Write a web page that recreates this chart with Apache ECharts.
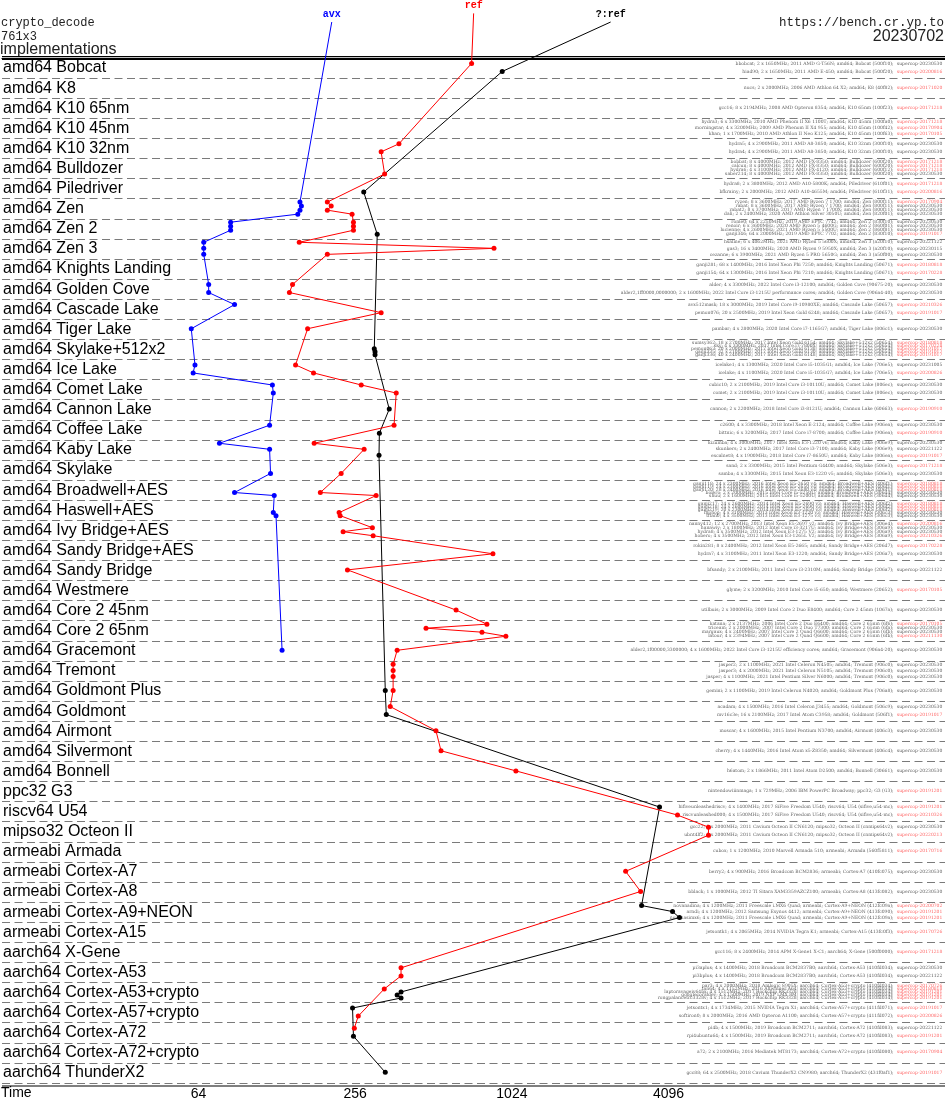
<!DOCTYPE html>
<html><head><meta charset="utf-8">
<script src="https://cdn.jsdelivr.net/npm/echarts@6/dist/echarts.min.js"></script>
<style>html,body{margin:0;padding:0;background:#fff}#c{width:945px;height:1103px}</style>
</head><body><div id="c"></div>
<script>
const N = k => Array(k).fill(null);

const categories = ['amd64 Bobcat','amd64 K8','amd64 K10 65nm','amd64 K10 45nm','amd64 K10 32nm','amd64 Bulldozer','amd64 Piledriver','amd64 Zen','amd64 Zen 2','amd64 Zen 3','amd64 Knights Landing','amd64 Golden Cove','amd64 Cascade Lake','amd64 Tiger Lake','amd64 Skylake+512x2','amd64 Ice Lake','amd64 Comet Lake','amd64 Cannon Lake','amd64 Coffee Lake','amd64 Kaby Lake','amd64 Skylake','amd64 Broadwell+AES','amd64 Haswell+AES','amd64 Ivy Bridge+AES','amd64 Sandy Bridge+AES','amd64 Sandy Bridge','amd64 Westmere','amd64 Core 2 45nm','amd64 Core 2 65nm','amd64 Gracemont','amd64 Tremont','amd64 Goldmont Plus','amd64 Goldmont','amd64 Airmont','amd64 Silvermont','amd64 Bonnell','ppc32 G3','riscv64 U54','mipso32 Octeon II','armeabi Armada','armeabi Cortex-A7','armeabi Cortex-A8','armeabi Cortex-A9+NEON','armeabi Cortex-A15','aarch64 X-Gene','aarch64 Cortex-A53','aarch64 Cortex-A53+crypto','aarch64 Cortex-A57+crypto','aarch64 Cortex-A72','aarch64 Cortex-A72+crypto','aarch64 ThunderX2'];

const machineRow = [0,0, 1, 2, 3,3,3, 4,4, 5,5,5,5, 6,6, 7,7,7,7, 8,8,8,8, 9,9,9, 10,10, 11,11, 12,12, 13, 14,14,14,14,14, 15,15, 16,16, 17, 18,18, 19,19,19, 20,20, 21,21,21,21,21, 22,22,22,22,22, 23,23,23,23, 24,24, 25, 26, 27, 28,28,28,28, 29, 30,30,30, 31, 32,32, 33, 34, 35, 36, 37,37, 38,38, 39, 40, 41, 42,42,42, 43, 44, 45,45, 46,46,46,46,46, 47,47, 48,48, 49, 50];

const machineInfo = [
 'bbobcat; 2 x 1650MHz; 2011 AMD G-T56N; amd64; Bobcat (500f10);','hiad90; 2 x 1650MHz; 2011 AMD E-450; amd64; Bobcat (500f20);',
 'nucs; 2 x 2000MHz; 2006 AMD Athlon 64 X2; amd64; K8 (40f82);',
 'gcc16; 8 x 2194MHz; 2008 AMD Opteron 8354; amd64; K10 65nm (100f23);',
 'hydra3; 6 x 3300MHz; 2010 AMD Phenom II X6 1100T; amd64; K10 45nm (100fa0);','morningstar; 4 x 3200MHz; 2009 AMD Phenom II X4 955; amd64; K10 45nm (100f42);','khan; 1 x 1700MHz; 2010 AMD Athlon II Neo K125; amd64; K10 45nm (100f63);',
 'hydra5; 4 x 2900MHz; 2011 AMD A8-3850; amd64; K10 32nm (300f10);','hydra4; 4 x 2900MHz; 2011 AMD A8-3850; amd64; K10 32nm (300f10);',
 'bobbat; 8 x 4000MHz; 2012 AMD FX-8350; amd64; Bulldozer (600f20);','calcun; 8 x 4000MHz; 2012 AMD FX-8350; amd64; Bulldozer (600f20);','hydra6; 4 x 3100MHz; 2012 AMD FX-4120; amd64; Bulldozer (600f12);','saber214; 8 x 4000MHz; 2012 AMD FX-8350; amd64; Bulldozer (600f20);',
 'hydra8; 2 x 3800MHz; 2012 AMD A10-5800K; amd64; Piledriver (610f01);','bfkrainy; 2 x 2000MHz; 2012 AMD A10-4655M; amd64; Piledriver (610f31);',
 'ryzen; 8 x 3600MHz; 2017 AMD Ryzen 7 1700; amd64; Zen (800f11);','rabat; 8 x 3600MHz; 2017 AMD Ryzen 7 1700; amd64; Zen (800f11);','rabat2; 8 x 3700MHz; 2017 AMD Ryzen 7 1700X; amd64; Zen (800f11);','dali; 2 x 2400MHz; 2020 AMD Athlon Silver 3050U; amd64; Zen (820f01);',
 'rome0; 64 x 2250MHz; 2019 AMD EPYC 7742; amd64; Zen 2 (830f10);','renoir; 6 x 3600MHz; 2020 AMD Ryzen 5 4600G; amd64; Zen 2 (860f01);','lucienne; 4 x 2600MHz; 2021 AMD Ryzen 5 5500U; amd64; Zen 2 (860f81);','ganji346; 64 x 2000MHz; 2019 AMD EPYC 7702; amd64; Zen 2 (830f10);',
 'hsaline; 6 x 4062MHz; 2021 AMD Ryzen 5 5600X; amd64; Zen 3 (a20f10);','gas3; 16 x 3400MHz; 2020 AMD Ryzen 9 5950X; amd64; Zen 3 (a20f10);','cezanne; 6 x 3900MHz; 2021 AMD Ryzen 5 PRO 5650G; amd64; Zen 3 (a50f00);',
 'ganji281; 68 x 1400MHz; 2016 Intel Xeon Phi 7250; amd64; Knights Landing (50671);','ganji154; 64 x 1300MHz; 2016 Intel Xeon Phi 7210; amd64; Knights Landing (50671);',
 'alder; 4 x 3300MHz; 2022 Intel Core i3-12100; amd64; Golden Cove (90675-20);','alder2,1ff0000,0000000; 2 x 1600MHz; 2022 Intel Core i3-1215U performance cores; amd64; Golden Cove (906a4-40);',
 'avx512mask; 18 x 3000MHz; 2019 Intel Core i9-10980XE; amd64; Cascade Lake (50657);','pemon076; 20 x 2500MHz; 2019 Intel Xeon Gold 6248; amd64; Cascade Lake (50657);',
 'pambar; 4 x 2800MHz; 2020 Intel Core i7-1165G7; amd64; Tiger Lake (806c1);',
 'sumsy362; 18 x 2700MHz; 2017 Intel Xeon Gold 6154; amd64; Skylake+512x2 (50654);','sky; 4 x 3300MHz; 2017 Intel Core i7-7800X; amd64; Skylake+512x2 (50654);','pemon063; 20 x 2000MHz; 2017 Intel Xeon Gold 6138; amd64; Skylake+512x2 (50654);','ganji335; 32 x 2100MHz; 2017 Intel Xeon Gold 6130; amd64; Skylake+512x2 (50654);','ganji336; 40 x 2400MHz; 2017 Intel Xeon Gold 6148; amd64; Skylake+512x2 (50654);',
 'icelake1; 4 x 1300MHz; 2020 Intel Core i5-1035G1; amd64; Ice Lake (706e5);','icelake; 4 x 1100MHz; 2020 Intel Core i5-1035G7; amd64; Ice Lake (706e5);',
 'cubic10; 2 x 2100MHz; 2019 Intel Core i3-10110U; amd64; Comet Lake (806ec);','comet; 2 x 2100MHz; 2019 Intel Core i3-10110U; amd64; Comet Lake (806ec);',
 'cannon; 2 x 2200MHz; 2018 Intel Core i3-8121U; amd64; Cannon Lake (60663);',
 'c2600; 4 x 3300MHz; 2018 Intel Xeon E-2124; amd64; Coffee Lake (906ea);','bittnic; 6 x 3200MHz; 2017 Intel Core i7-8700; amd64; Coffee Lake (906ea);',
 'kizumba; 4 x 3000MHz; 2017 Intel Xeon E3-1220 v6; amd64; Kaby Lake (906e9);','skunkers; 2 x 2400MHz; 2017 Intel Core i3-7100; amd64; Kaby Lake (906e9);','excalnet8; 4 x 1900MHz; 2018 Intel Core i7-8650U; amd64; Kaby Lake (806ea);',
 'sand; 2 x 3300MHz; 2015 Intel Pentium G4400; amd64; Skylake (506e3);','samba; 4 x 3300MHz; 2015 Intel Xeon E3-1220 v5; amd64; Skylake (506e3);',
 'ganji118; 24 x 2300MHz; 2016 Intel Xeon E5-2650 v4; amd64; Broadwell+AES (406f1);','ganji119; 24 x 2300MHz; 2016 Intel Xeon E5-2650 v4; amd64; Broadwell+AES (406f1);','ganji120; 28 x 2400MHz; 2016 Intel Xeon E5-2680 v4; amd64; Broadwell+AES (406f1);','bolero; 2 x 2000MHz; 2015 Intel Core i5-5250U; amd64; Broadwell+AES (306d4);','shuu; 2 x 1600MHz; 2015 Intel Core i5-5200U; amd64; Broadwell+AES (306d4);',
 'ganji217; 24 x 2600MHz; 2014 Intel Xeon E5-2690 v3; amd64; Haswell+AES (306f2);','ganji218; 24 x 2600MHz; 2014 Intel Xeon E5-2690 v3; amd64; Haswell+AES (306f2);','ganji219; 20 x 2300MHz; 2014 Intel Xeon E5-2650 v3; amd64; Haswell+AES (306f2);','hiphop; 4 x 3100MHz; 2013 Intel Xeon E3-1220 v3; amd64; Haswell+AES (306c3);','titan0; 4 x 3500MHz; 2013 Intel Xeon E3-1275 v3; amd64; Haswell+AES (306c3);',
 'nanny412; 12 x 2700MHz; 2013 Intel Xeon E5-2697 v2; amd64; Ivy Bridge+AES (306e4);','hanawiy; 2 x 1800MHz; 2012 Intel Core i3-3217U; amd64; Ivy Bridge+AES (306a9);','hydra8; 4 x 3500MHz; 2012 Intel Xeon E3-1275 V2; amd64; Ivy Bridge+AES (306a9);','hobero; 4 x 3500MHz; 2012 Intel Xeon E3-1265L V2; amd64; Ivy Bridge+AES (306a9);',
 'rokin281; 8 x 2400MHz; 2012 Intel Xeon E5-2665; amd64; Sandy Bridge+AES (206d7);','hydra7; 4 x 3100MHz; 2011 Intel Xeon E3-1220; amd64; Sandy Bridge+AES (206a7);',
 'bfsandy; 2 x 2100MHz; 2011 Intel Core i3-2310M; amd64; Sandy Bridge (206a7);',
 'glyme; 2 x 3200MHz; 2010 Intel Core i5-650; amd64; Westmere (20652);',
 'utilbuis; 2 x 3000MHz; 2009 Intel Core 2 Duo E8400; amd64; Core 2 45nm (1067a);',
 'katana; 2 x 2137MHz; 2006 Intel Core 2 Duo E6400; amd64; Core 2 65nm (6f6);','triceam; 2 x 2000MHz; 2007 Intel Core 2 Duo T7300; amd64; Core 2 65nm (6fa);','margaux; 4 x 2400MHz; 2007 Intel Core 2 Quad Q6600; amd64; Core 2 65nm (6fb);','latour; 4 x 2394MHz; 2007 Intel Core 2 Quad Q6600; amd64; Core 2 65nm (6fb);',
 'alder2,1f00000,3300000; 4 x 1600MHz; 2022 Intel Core i3-1215U efficiency cores; amd64; Gracemont (906a4-20);',
 'jasper2; 2 x 1100MHz; 2021 Intel Celeron N4505; amd64; Tremont (906c0);','jasper3; 4 x 2000MHz; 2021 Intel Celeron N5105; amd64; Tremont (906c0);','jasper; 4 x 1100MHz; 2021 Intel Pentium Silver N6000; amd64; Tremont (906c0);',
 'gemini; 2 x 1100MHz; 2019 Intel Celeron N4020; amd64; Goldmont Plus (706a8);',
 'acadam; 4 x 1500MHz; 2016 Intel Celeron J3455; amd64; Goldmont (506c9);','mv16c3e; 16 x 2100MHz; 2017 Intel Atom C3958; amd64; Goldmont (506f1);',
 'moscar; 4 x 1600MHz; 2015 Intel Pentium N3700; amd64; Airmont (406c3);',
 'cherry; 4 x 1440MHz; 2016 Intel Atom x5-Z8350; amd64; Silvermont (406c4);',
 'h6atom; 2 x 1866MHz; 2011 Intel Atom D2500; amd64; Bonnell (30661);',
 'nintendowiiinmaga; 1 x 729MHz; 2006 IBM PowerPC Broadway; ppc32; G3 (G3);',
 'hifiveunleashedriscv; 4 x 1400MHz; 2017 SiFive Freedom U540; riscv64; U54 (sifive,u54-mc);','riscvunleashed000; 4 x 1500MHz; 2017 SiFive Freedom U540; riscv64; U54 (sifive,u54-mc);',
 'gcc22; 2 x 2000MHz; 2011 Cavium Octeon II CN6120; mipso32; Octeon II (cnmips64v2);','ubnt4lf2; 2 x 2000MHz; 2011 Cavium Octeon II CN6120; mipso32; Octeon II (cnmips64v2);',
 'cubox; 1 x 1200MHz; 2010 Marvell Armada 510; armeabi; Armada (560f5811);',
 'berry2; 4 x 900MHz; 2016 Broadcom BCM2836; armeabi; Cortex-A7 (410fc075);',
 'bblack; 1 x 1000MHz; 2012 TI Sitara XAM3359AZCZ100; armeabi; Cortex-A8 (413fc082);',
 'novanadina; 4 x 1200MHz; 2011 Freescale i.MX6 Quad; armeabi; Cortex-A9+NEON (412fc09a);','arndi; 4 x 1200MHz; 2012 Samsung Exynos 4412; armeabi; Cortex-A9+NEON (413fc090);','novanasimx6; 4 x 1200MHz; 2011 Freescale i.MX6 Quad; armeabi; Cortex-A9+NEON (412fc09a);',
 'jetsontk1; 4 x 2065MHz; 2014 NVIDIA Tegra K1; armeabi; Cortex-A15 (413fc0f3);',
 'gcc116; 8 x 2400MHz; 2014 APM X-Gene1 X-C1; aarch64; X-Gene (500f0000);',
 'pi3aplus; 4 x 1400MHz; 2018 Broadcom BCM2837B0; aarch64; Cortex-A53 (410fd034);','pi3bplus; 4 x 1400MHz; 2018 Broadcom BCM2837B0; aarch64; Cortex-A53 (410fd034);',
 'par3; 4 x 2000MHz; 2018 Amlogic S905X; aarch64; Cortex-A53+crypto (410fd034);','tan64; 4 x 1152MHz; 2016 Allwinner A64; aarch64; Cortex-A53+crypto (410fd034);','laptoravageiv64bx; 4 x 1512MHz; 2017 Rockchip RK3328; aarch64; Cortex-A53+crypto (410fd034);','googlecoraldev; 4 x 1500MHz; 2019 NXP i.MX 8M; aarch64; Cortex-A53+crypto (410fd034);','rongpalancetrc3328v; 4 x 1512MHz; 2017 Rockchip RK3328; aarch64; Cortex-A53+crypto (410fd034);',
 'jetsontx1; 4 x 1734MHz; 2015 NVIDIA Tegra X1; aarch64; Cortex-A57+crypto (411fd071);','softiron0; 8 x 2000MHz; 2016 AMD Opteron A1100; aarch64; Cortex-A57+crypto (411fd072);',
 'pi4b; 4 x 1500MHz; 2019 Broadcom BCM2711; aarch64; Cortex-A72 (410fd083);','rpi4ubuntu64; 4 x 1500MHz; 2019 Broadcom BCM2711; aarch64; Cortex-A72 (410fd083);',
 'a72; 2 x 2100MHz; 2016 Mediatek MT8173; aarch64; Cortex-A72+crypto (410fd080);',
 'gcc88; 64 x 2500MHz; 2018 Cavium ThunderX2 CN9980; aarch64; ThunderX2 (431f0af1);'
];

const machineVersion = [
 '20230530','20200816', '20171020', '20171218', '20171218','20170904','20170105', '20230530','20230530',
 '20171218','20171218','20171218','20230530', '20171218','20200816',
 '20170904','20230530','20230530','20230530', '20230530','20230530','20230530','20191017',
 '20221122','20230115','20230530', '20180818','20170228', '20230530','20230530', '20210326','20191017', '20230530',
 '20180818','20170228','20191017','20191017','20191017', '20231005','20200826', '20230530','20230530', '20190910',
 '20230530','20190910', '20230530','20221122','20191017', '20171218','20230530',
 '20180818','20180818','20180818','20230530','20230530', '20180818','20180818','20180818','20230530','20230530',
 '20200816','20230530','20230530','20210326', '20170228','20230530', '20221122', '20170105', '20230530',
 '20170105','20230530','20230530','20211130', '20230530', '20230530','20230530','20230530', '20230530',
 '20230530','20191017', '20230530', '20230530', '20230530', '20191201', '20191201','20210326',
 '20230530','20220213', '20170716', '20230530', '20230530', '20200702','20191201','20191201', '20170726', '20171218',
 '20230530','20221122', '20170726','20180818','20191201','20191201','20191201', '20191017','20200826',
 '20221122','20191201', '20170904', '20191017'
];
const currentVersions = ['20230530', '20221122', '20231005', '20230115'];

// timings (cycles), null = not measured
const avxTime = [
 ...N(2), null, null, ...N(3), ...N(2), ...N(4), ...N(2),
 157,159,157,154,
 85,85,85,null,
 67,67,67,
 ...N(2),
 70,70,
 88,null,
 60,
 ...N(5),
 62,61,
 123,124,
 null,
 120,null,
 77,120,null,
 null,121,
 null,null,null,88,125,
 null,null,null,124,127,
 ...N(4), ...N(2), null, null, null, ...N(4),
 134,
 ...N(3), null, ...N(2), null, null, null, null, ...N(2), ...N(2), null, null, null, ...N(3), null, null, ...N(2), ...N(5), ...N(2), ...N(2), null, null
];
const refTime = [
 717,null, null, null, ...N(3),
 377,322,
 null,null,null,332,
 null,null,
 200,207,200,249,
 252,252,252,null,
 156,874,200,
 ...N(2),
 147,143,
 null,322,
 168,
 ...N(5),
 151,177,
 270,368,
 null,
 361,null,
 178,277,null,
 null,226,
 null,null,null,188,308,
 null,null,null,222,224,
 null,298,230,300,
 null,866,
 239,
 null,
 625,
 821,479,786,971,
 371,
 358,358,358,
 358,
 349,null,
 523, 547, 1061, null,
 null,4435,
 5833,5833,
 null, 2802, 3199,
 ...N(3), null, null,
 384,384,
 null,331,null,null,null,
 null,263,
 254,null,
 null, null
];
const qrefTime = [
 null,940, null, null, ...N(3), ...N(2), ...N(4),
 null,276,
 ...N(4),
 null,null,null,311,
 ...N(3), ...N(2), ...N(2), ...N(2), null,
 null,null,303,305,305,
 ...N(2), ...N(2),
 346,
 null,317,
 null,null,316,
 ...N(2), ...N(5), ...N(5), ...N(4), ...N(2), null, null, null, ...N(4), null, ...N(3),
 334,
 null,337,
 null, null, null, null,
 3783,null,
 ...N(2), null, null, null,
 3227,4243,4513,
 null, null, ...N(2),
 null,null,384,371,384,
 250,null,
 null,252,
 null,
 334
];

const seriesNames = ['avx', 'ref', '?:ref'];
const seriesColors = ['#0000ff', '#ff0000', '#000000'];
const seriesLabelTime = [208, 730, 2454];      // where each series' name tag sits
const seriesLabelRow = [-1.79, -2.22, -1.79];
const xTickValues = [64, 256, 1024, 4096];
const timeMin = 11.24, timeMax = 47300, textAnchorTime = 46400;

// machine vertical positions within their row
const rowCount = categories.map((_, r) => machineRow.filter(v => v === r).length);
const seen = categories.map(() => 0);
const machineY = machineRow.map(r => {
  const n = rowCount[r], j = seen[r]++;
  const s = n > 1 ? Math.min(0.4, 0.6 / (n - 1)) : 0;
  return r + 0.47 + (j - (n - 1) / 2) * s;
});

const L2 = Math.log2;
function pts(times) {
  const out = [];
  times.forEach((t, i) => { if (t != null) out.push([L2(t), machineY[i]]); });
  return out;
}
const allTimes = [avxTime, refTime, qrefTime];

const lineSeries = seriesNames.map((name, k) => ({
  type: 'line', name, yAxisIndex: 0, clip: false, animation: false,
  symbol: 'circle', symbolSize: 5, showAllSymbol: true,
  lineStyle: { color: seriesColors[k], width: 1 },
  itemStyle: { color: seriesColors[k] },
  z: 5 - k,
  data: [{
    value: [L2(seriesLabelTime[k]), seriesLabelRow[k]], symbolSize: 1,
    itemStyle: { color: 'rgba(0,0,0,0)' },
    label: { show: true, position: 'top', distance: 2, formatter: name, color: seriesColors[k],
      fontFamily: 'Liberation Mono', fontWeight: 'bold', fontSize: 10 }
  }].concat(pts(allTimes[k]))
}));

function rule(y) {
  return { type: 'line', yAxisIndex: 0, clip: false, animation: false, symbol: 'none', silent: true,
    lineStyle: { color: '#000', width: 1.2 }, data: [[L2(timeMin), y], [L2(timeMax), y]] };
}

const textSeries = {
  type: 'scatter', yAxisIndex: 0, animation: false, silent: true, symbolSize: 1,
  itemStyle: { color: 'rgba(0,0,0,0)' },
  data: machineY.map((y, i) => ({
    value: [L2(textAnchorTime), y],
    label: {
      show: true, position: 'left', distance: 0,
      formatter: '{k|' + machineInfo[i] + '} {' + (currentVersions.includes(machineVersion[i]) ? 'k' : 'r') + '|supercop-' + machineVersion[i] + '}',
      rich: {
        k: { fontSize: 4.5, fontFamily: 'DejaVu Serif', color: '#333' },
        r: { fontSize: 4.5, fontFamily: 'DejaVu Serif', color: '#ff3b3b' }
      }
    }
  }))
};

const chart = echarts.init(document.getElementById('c'), null, { renderer: 'canvas' });
chart.setOption({
  animation: false,
  backgroundColor: '#fff',
  grid: { left: 0, right: 0, top: 58, bottom: 20, containLabel: false },
  xAxis: {
    type: 'value', min: L2(timeMin), max: L2(timeMax),
    axisLine: { show: true, lineStyle: { color: '#000', width: 1.2 } },
    axisTick: { show: false }, splitLine: { show: false },
    axisLabel: { customValues: xTickValues.map(L2), formatter: v => String(Math.round(Math.pow(2, v))),
      margin: 4, fontFamily: 'Liberation Sans', fontSize: 14, color: '#000' }
  },
  yAxis: [
    { type: 'value', min: 0, max: 51, interval: 1, inverse: true,
      axisLine: { show: false }, axisTick: { show: false }, axisLabel: { show: false },
      splitLine: { show: true, lineStyle: { color: '#7a7a7a', width: 1, type: [8, 4.5] } } },
    { type: 'category', data: categories, inverse: true, boundaryGap: true, position: 'left',
      axisLine: { show: false }, axisTick: { show: false }, splitLine: { show: false },
      axisLabel: { inside: true, margin: 1, interval: 0, fontFamily: 'Liberation Sans', fontSize: 16,
        color: '#000', padding: [0, 0, 3, 0] } }
  ],
  graphic: [
    { type: 'text', x: 1, y: 23, style: { text: 'crypto_decode', font: '12px "Liberation Mono"', fill: '#222', verticalAlign: 'middle' } },
    { type: 'text', x: 1, y: 36.5, style: { text: '761x3', font: '12px "Liberation Mono"', fill: '#222', verticalAlign: 'middle' } },
    { type: 'text', x: 0, y: 50, style: { text: 'implementations', font: '16px "Liberation Sans"', fill: '#222', verticalAlign: 'middle' } },
    { type: 'text', x: 944, y: 23, style: { text: 'https://bench.cr.yp.to', font: '12.5px "Liberation Mono"', fill: '#222', align: 'right', verticalAlign: 'middle' } },
    { type: 'text', x: 944, y: 36.5, style: { text: '20230702', font: '16px "Liberation Sans"', fill: '#222', align: 'right', verticalAlign: 'middle' } },
    { type: 'text', x: 1, y: 1093, style: { text: 'Time', font: '14px "Liberation Sans"', fill: '#000', verticalAlign: 'middle' } }
  ],
  series: [rule(-0.07), rule(0.07), rule(51.15), textSeries].concat(lineSeries)
});
</script></body></html>
